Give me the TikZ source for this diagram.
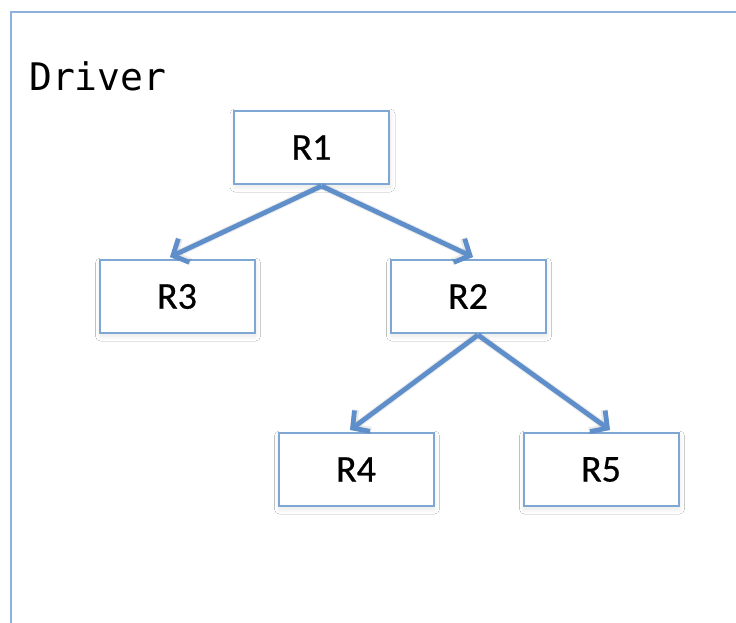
\documentclass[tikz,border=0pt]{standalone}
\usepackage{fontspec}
\setmainfont{Carlito}
\newfontfamily\codefont{DejaVu Sans Mono}
\newfontfamily\labelfont[FakeBold=0.6]{Carlito}
\usetikzlibrary{arrows.meta,calc,shadows.blur}
\definecolor{boxline}{HTML}{7FA7D4}
\definecolor{arrowblue}{HTML}{5F8FCA}
\definecolor{frameline}{HTML}{8DB1DC}
\tikzset{
  softshadow/.style={blur shadow={shadow xshift=1pt, shadow yshift=-3pt,
    shadow blur radius=5pt, shadow blur steps=14, shadow opacity=10}},
  rbox/.style={draw=boxline, line width=2pt, fill=white,
    minimum width=155pt, minimum height=73pt, inner sep=0pt,
    font=\labelfont\fontsize{38}{43}\selectfont, softshadow},
  link/.style={draw=arrowblue, line width=4.8pt,
    -{Straight Barb[length=12pt,width=26pt,line width=4.8pt]}},
  linkshadow/.style={draw=black, opacity=0.08, line width=7pt,
    -{Straight Barb[length=12pt,width=26pt,line width=7pt]}}
}
\begin{document}
\begin{tikzpicture}[x=1pt,y=-1pt]
  \useasboundingbox (0,0) rectangle (736,623);
  \fill[white] (0,0) rectangle (736,623);
  % outer frame, running past the right and bottom edges
  \draw[frameline, line width=2pt] (11,630) -- (11,12) -- (740,12);
  \node[anchor=base west, inner sep=0pt, font=\codefont\fontsize{38}{44}\selectfont] (drv) at (29,91) {Driver};
  % boxes
  \node[rbox] (R1) at (311.5,147.5) {R1};
  \node[rbox] (R3) at (177,296.5) {R3};
  \node[rbox] (R2) at (468,296.5) {R2};
  \node[rbox] (R4) at (356,469.5) {R4};
  \node[rbox] (R5) at (601,469.5) {R5};
  % end points of the connectors
  \coordinate (s1) at ($(R1.south)+(10,1)$);
  \coordinate (s2) at ($(R2.south)+(10,1)$);
  \coordinate (e3) at ($(R3.north)+(-7,-2)$);
  \coordinate (e2) at ($(R2.north)+(5,-2)$);
  \coordinate (e4) at ($(R4.north)+(-6,-2)$);
  \coordinate (e5) at ($(R5.north)+(9,-2)$);
  % faint shadows under the connectors
  \begin{scope}[yshift=-3pt, xshift=1pt]
    \draw[linkshadow] (s1) -- (e3);
    \draw[linkshadow] (s1) -- (e2);
    \draw[linkshadow] (s2) -- (e4);
    \draw[linkshadow] (s2) -- (e5);
  \end{scope}
  % connectors
  \draw[link] (s1) -- (e3);
  \draw[link] (s1) -- (e2);
  \draw[link] (s2) -- (e4);
  \draw[link] (s2) -- (e5);
\end{tikzpicture}
\end{document}
